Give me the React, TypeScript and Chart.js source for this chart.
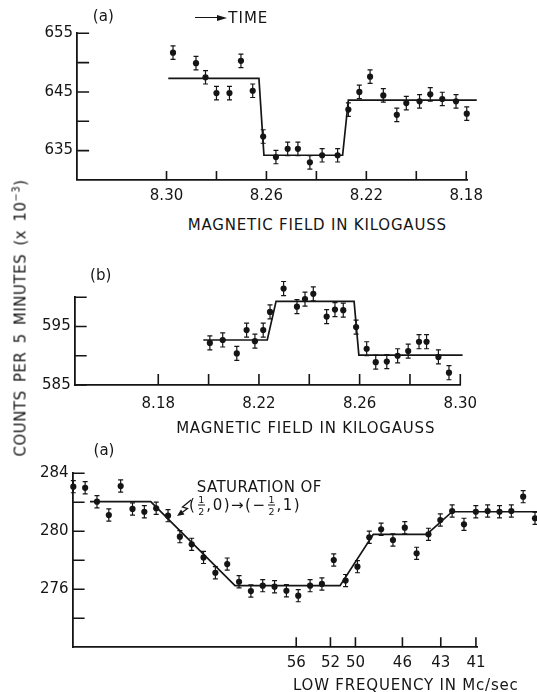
import React, { useEffect, useRef } from 'react';
import { Chart, registerables } from 'chart.js';

Chart.register(...registerables);

const INK = '#151515';
const FONT = "'DejaVu Sans', 'Liberation Sans', sans-serif";
const W = 537;
const DOT = 3.1;

// ---------- Panel (a), top: field sweep downward ----------
const fieldA = [8.2974, 8.2882, 8.2844, 8.28, 8.2748, 8.2702, 8.2655, 8.2613, 8.2562, 8.2515, 8.2474, 8.2426, 8.2377, 8.2315, 8.2272, 8.2228, 8.2185, 8.2132, 8.2078, 8.204, 8.1987, 8.1944, 8.1896, 8.1841, 8.1798];
const countsA = [651.7, 649.9, 647.5, 644.8, 644.8, 650.3, 645.2, 637.4, 633.9, 635.3, 635.3, 633.0, 634.2, 634.2, 642.0, 645.0, 647.6, 644.4, 641.1, 643.1, 643.4, 644.6, 643.8, 643.4, 641.3];
const fitFieldA = [8.2993, 8.263, 8.261, 8.2295, 8.2272, 8.1758];
const fitCountsA = [647.3, 647.3, 634.2, 634.2, 643.6, 643.6];
const errA = 1.15;
const yTicksA = [635, 640, 645, 650, 655];
const yLabelsA = ['635', '', '645', '', '655'];
const xTicksA = [8.3, 8.28, 8.26, 8.24, 8.22, 8.2, 8.18];
const xLabelsA = ['8.30', '', '8.26', '', '8.22', '', '8.18'];

// ---------- Panel (b), middle: field sweep upward ----------
const fieldB = [8.2005, 8.2056, 8.2112, 8.2151, 8.2184, 8.2217, 8.2244, 8.2298, 8.2351, 8.2383, 8.2416, 8.2469, 8.2502, 8.2535, 8.2586, 8.2628, 8.2664, 8.2708, 8.2751, 8.2793, 8.2836, 8.2866, 8.2913, 8.2955];
const countsB = [592.2, 592.7, 590.4, 594.4, 592.5, 594.4, 597.5, 601.5, 598.4, 599.7, 600.6, 596.7, 597.9, 597.8, 594.9, 591.2, 588.9, 589.0, 590.0, 590.8, 592.4, 592.4, 589.8, 587.1];
const fitFieldB = [8.1979, 8.2233, 8.2268, 8.2578, 8.2597, 8.3009];
const fitCountsB = [592.7, 592.7, 599.3, 599.3, 590.1, 590.1];
const errB = 1.2;
const yTicksB = [585, 590, 595, 600];
const yLabelsB = ['585', '', '595', ''];
const xTicksB = [8.18, 8.2, 8.22, 8.24, 8.26, 8.28, 8.3];
const xLabelsB = ['8.18', '', '8.22', '', '8.26', '', '8.30'];

// ---------- Panel (a), bottom: low-frequency sweep ----------
const sweepC = [0, 1, 2, 3, 4, 5, 6, 7, 8, 9, 10, 11, 12, 13, 14, 15, 16, 17, 18, 19, 20, 21, 22, 23, 24, 25, 26, 27, 28, 29, 30, 31, 32, 33, 34, 35, 36, 37, 38, 39];
const countsC = [283.08, 283.0, 282.04, 281.12, 283.12, 281.54, 281.35, 281.59, 281.08, 279.63, 279.1, 278.2, 277.14, 277.74, 276.52, 275.88, 276.25, 276.18, 275.9, 275.56, 276.25, 276.37, 278.02, 276.6, 277.56, 279.59, 280.14, 279.4, 280.25, 278.48, 279.79, 280.78, 281.4, 280.48, 281.35, 281.4, 281.35, 281.4, 282.39, 280.9];
const fitSweepC = [1.41, 6.54, 13.66, 22.53, 25.34, 29.85, 32.0, 39.2];
const fitCountsC = [282.04, 282.04, 276.25, 276.25, 279.79, 279.79, 281.35, 281.35];
const errC = 0.42;
const yTicksC = [274, 276, 278, 280, 282, 284];
const yLabelsC = ['', '276', '', '280', '', '284'];
const freqTickPos = [18.83, 21.72, 23.83, 27.8, 31.04, 34.01];
const freqLabels = ['56', '52', '50', '46', '43', '41'];
const arrowTipC = [8.76, 281.05];

type Pt = { x: number; y: number };
interface Spec {
  top: number;
  height: number;
  area: { l: number; t: number; r: number; b: number };
  xMin: number;
  xMax: number;
  reverse: boolean;
  yMin: number;
  yMax: number;
  points: Pt[];
  fit: Pt[];
  err: number;
  xTicks: number[];
  xLabels: string[];
  yTicks: number[];
  yLabels: string[];
  xTickLen: number;
  yTickLen: number;
  xPad: number;
  yPad: number;
  extra?: (chart: any) => void;
}

const zip = (xs: number[], ys: number[]): Pt[] => xs.map((x, i) => ({ x, y: ys[i] }));

function inkPlugin(s: Spec) {
  return {
    id: 'ink',
    afterDatasetsDraw(chart: any) {
      const { ctx, chartArea } = chart;
      const xs = chart.scales.x;
      const ys = chart.scales.y;
      ctx.save();
      ctx.strokeStyle = INK;
      ctx.fillStyle = INK;
      // inward tick marks
      ctx.lineWidth = 1.6;
      ctx.beginPath();
      for (const v of s.xTicks) {
        const px = xs.getPixelForValue(v);
        ctx.moveTo(px, chartArea.bottom);
        ctx.lineTo(px, chartArea.bottom - s.xTickLen);
      }
      for (const v of s.yTicks) {
        const py = ys.getPixelForValue(v);
        ctx.moveTo(chartArea.left, py);
        ctx.lineTo(chartArea.left + s.yTickLen, py);
      }
      ctx.stroke();
      // error bars
      ctx.lineWidth = 1.2;
      ctx.beginPath();
      for (const p of s.points) {
        const px = xs.getPixelForValue(p.x);
        const a = ys.getPixelForValue(p.y + s.err);
        const b = ys.getPixelForValue(p.y - s.err);
        ctx.moveTo(px, a);
        ctx.lineTo(px, b);
        ctx.moveTo(px - 2.5, a);
        ctx.lineTo(px + 2.5, a);
        ctx.moveTo(px - 2.5, b);
        ctx.lineTo(px + 2.5, b);
      }
      ctx.stroke();
      // points that lie beyond the axes (Chart.js skips those)
      const m = DOT;
      for (const p of s.points) {
        const px = xs.getPixelForValue(p.x);
        const py = ys.getPixelForValue(p.y);
        const inside =
          px > chartArea.left - m && px < chartArea.right + m && py > chartArea.top - m && py < chartArea.bottom + m;
        if (!inside) {
          ctx.beginPath();
          ctx.arc(px, py, DOT, 0, Math.PI * 2);
          ctx.fill();
        }
      }
      if (s.extra) s.extra(chart);
      ctx.restore();
    },
  };
}

function makeChart(canvas: HTMLCanvasElement, s: Spec) {
  const H = s.height;
  return new Chart(canvas, {
    type: 'scatter',
    data: {
      datasets: [
        {
          data: s.fit,
          showLine: true,
          borderColor: INK,
          borderWidth: 1.7,
          pointRadius: 0,
          pointHoverRadius: 0,
          clip: false,
        } as any,
        {
          data: s.points,
          showLine: false,
          pointRadius: DOT,
          pointHoverRadius: DOT,
          backgroundColor: INK,
          borderColor: INK,
          borderWidth: 0,
          clip: false,
        } as any,
      ],
    },
    options: {
      animation: false,
      responsive: false,
      maintainAspectRatio: false,
      devicePixelRatio: 1,
      events: [],
      layout: { padding: { left: 0, top: s.area.t, right: W - s.area.r, bottom: 0 } },
      plugins: { legend: { display: false }, tooltip: { enabled: false }, title: { display: false } },
      scales: {
        x: {
          type: 'linear',
          position: 'bottom',
          reverse: s.reverse,
          min: s.xMin,
          max: s.xMax,
          grid: { display: false, drawTicks: false },
          border: { display: true, color: INK, width: 1.8 },
          ticks: {
            autoSkip: false,
            maxRotation: 0,
            padding: s.xPad,
            color: INK,
            font: { family: FONT, size: 15 },
            callback: (_v: any, i: number) => s.xLabels[i] ?? '',
          },
          afterBuildTicks: (sc: any) => {
            sc.ticks = s.xTicks.map((v) => ({ value: v }));
          },
          afterFit: (sc: any) => {
            sc.height = H - s.area.b;
          },
        },
        y: {
          type: 'linear',
          position: 'left',
          min: s.yMin,
          max: s.yMax,
          grid: { display: false, drawTicks: false },
          border: { display: true, color: INK, width: 1.8 },
          ticks: {
            autoSkip: false,
            padding: s.yPad,
            color: INK,
            font: { family: FONT, size: 15 },
            callback: (_v: any, i: number) => s.yLabels[i] ?? '',
          },
          afterBuildTicks: (sc: any) => {
            sc.ticks = s.yTicks.map((v) => ({ value: v }));
          },
          afterFit: (sc: any) => {
            sc.width = s.area.l;
          },
        },
      },
    } as any,
    plugins: [inkPlugin(s)],
  });
}

const specA: Spec = {
  top: 0,
  height: 215,
  area: { l: 77.1, t: 33.3, r: 467.5, b: 179.9 },
  xMin: 8.1795,
  xMax: 8.3358,
  reverse: true,
  yMin: 630,
  yMax: 655,
  points: zip(fieldA, countsA),
  fit: zip(fitFieldA, fitCountsA),
  err: errA,
  xTicks: xTicksA,
  xLabels: xLabelsA,
  yTicks: yTicksA,
  yLabels: yLabelsA,
  xTickLen: 9,
  yTickLen: 12,
  xPad: 7,
  yPad: 4,
};

const specB: Spec = {
  top: 240,
  height: 200,
  area: { l: 74.7, t: 57.3, r: 460.3, b: 145 },
  xMin: 8.1468,
  xMax: 8.3,
  reverse: false,
  yMin: 585,
  yMax: 600,
  points: zip(fieldB, countsB),
  fit: zip(fitFieldB, fitCountsB),
  err: errB,
  xTicks: xTicksB,
  xLabels: xLabelsB,
  yTicks: yTicksB,
  yLabels: yLabelsB,
  xTickLen: 11,
  yTickLen: 12,
  xPad: 10,
  yPad: 4,
};

const specC: Spec = {
  top: 430,
  height: 262,
  area: { l: 72.6, t: 43.3, r: 477, b: 217.3 },
  xMin: -0.06,
  xMax: 34.1,
  reverse: false,
  yMin: 272,
  yMax: 284,
  points: zip(sweepC, countsC),
  fit: zip(fitSweepC, fitCountsC),
  err: errC,
  xTicks: freqTickPos,
  xLabels: freqLabels,
  yTicks: yTicksC,
  yLabels: yLabelsC,
  xTickLen: 10,
  yTickLen: 12,
  xPad: 7,
  yPad: 4,
  extra: (chart: any) => {
    const { ctx } = chart;
    const tx = chart.scales.x.getPixelForValue(arrowTipC[0]);
    const ty = chart.scales.y.getPixelForValue(arrowTipC[1]);
    ctx.lineWidth = 1.3;
    ctx.beginPath();
    ctx.moveTo(tx + 14, ty - 16);
    ctx.lineTo(tx + 5.5, ty - 9);
    ctx.lineTo(tx + 10.5, ty - 7.5);
    ctx.lineTo(tx + 3, ty - 2);
    ctx.stroke();
    const dx = -0.814;
    const dy = 0.581;
    ctx.beginPath();
    ctx.moveTo(tx, ty);
    ctx.lineTo(tx - dx * 7 - dy * 3, ty - dy * 7 + dx * 3);
    ctx.lineTo(tx - dx * 7 + dy * 3, ty - dy * 7 - dx * 3);
    ctx.closePath();
    ctx.fill();
  },
};

const Label = ({ x, y, children, style }: { x: number; y: number; children: any; style?: any }) => (
  <div
    style={{
      position: 'absolute',
      left: x,
      top: y,
      transform: 'translate(-50%, -50%)',
      whiteSpace: 'nowrap',
      lineHeight: 1,
      fontSize: 15,
      color: INK,
      ...style,
    }}
  >
    {children}
  </div>
);

const Frac = ({ n, d }: { n: string; d: string }) => (
  <span
    style={{
      display: 'inline-flex',
      flexDirection: 'column',
      alignItems: 'center',
      fontSize: 9.5,
      lineHeight: 1,
      margin: '0 1.5px',
      letterSpacing: 0,
      verticalAlign: 'middle',
    }}
  >
    <span>{n}</span>
    <span style={{ width: 7, borderTop: `1.2px solid ${INK}`, margin: '0.5px 0' }} />
    <span>{d}</span>
  </span>
);

export default function App() {
  const refA = useRef<HTMLCanvasElement>(null);
  const refB = useRef<HTMLCanvasElement>(null);
  const refC = useRef<HTMLCanvasElement>(null);

  useEffect(() => {
    Chart.defaults.font.family = FONT;
    Chart.defaults.color = INK;
    const charts = [
      makeChart(refA.current!, specA),
      makeChart(refB.current!, specB),
      makeChart(refC.current!, specC),
    ];
    return () => charts.forEach((c) => c.destroy());
  }, []);

  const canvasStyle = (s: Spec): any => ({
    position: 'absolute',
    left: 0,
    top: s.top,
    width: W,
    height: s.height,
  });

  return (
    <div
      style={{
        position: 'absolute',
        left: 0,
        top: 0,
        width: W,
        height: 692,
        background: '#fff',
        fontFamily: FONT,
        color: INK,
        overflow: 'hidden',
      }}
    >
      <canvas ref={refA} width={W} height={specA.height} style={canvasStyle(specA)} />
      <canvas ref={refB} width={W} height={specB.height} style={canvasStyle(specB)} />
      <canvas ref={refC} width={W} height={specC.height} style={canvasStyle(specC)} />

      {/* panel (a) top */}
      <Label x={103.3} y={16}>(a)</Label>
      <div style={{ position: 'absolute', left: 195, top: 17, width: 23, height: 1.4, background: INK }} />
      <div
        style={{
          position: 'absolute',
          left: 217,
          top: 14.7,
          width: 0,
          height: 0,
          borderLeft: `10px solid ${INK}`,
          borderTop: '3px solid transparent',
          borderBottom: '3px solid transparent',
        }}
      />
      <div style={{ position: 'absolute', left: 228.3, top: 18.3, transform: 'translateY(-50%)', fontSize: 15, lineHeight: 1, letterSpacing: 1 }}>
        TIME
      </div>
      <Label x={317.3} y={225.3} style={{ letterSpacing: 0.8 }}>MAGNETIC FIELD IN KILOGAUSS</Label>

      {/* panel (b) */}
      <Label x={100.7} y={275}>(b)</Label>
      <Label x={305.7} y={428.3} style={{ letterSpacing: 0.8 }}>MAGNETIC FIELD IN KILOGAUSS</Label>

      {/* panel (a) bottom */}
      <Label x={104} y={450}>(a)</Label>
      <div style={{ position: 'absolute', left: 196.8, top: 487, transform: 'translateY(-50%)', fontSize: 15, lineHeight: 1, letterSpacing: 0.4, whiteSpace: 'nowrap' }}>
        SATURATION OF
      </div>
      <div
        style={{
          position: 'absolute',
          left: 189,
          top: 505,
          transform: 'translateY(-50%)',
          fontSize: 15,
          lineHeight: 1,
          letterSpacing: 1.5,
          whiteSpace: 'nowrap',
          display: 'flex',
          alignItems: 'center',
        }}
      >
        <span>(</span>
        <Frac n="1" d="2" />
        <span>,0)</span>
        <span>→</span>
        <span>(−</span>
        <Frac n="1" d="2" />
        <span>,1)</span>
      </div>
      <Label x={405.8} y={685} style={{ letterSpacing: 0.8 }}>LOW FREQUENCY IN Mc/sec</Label>

      {/* shared y-axis title */}
      <Label
        x={21}
        y={318}
        style={{ transform: 'translate(-50%, -50%) rotate(-90deg)', letterSpacing: 0.5, wordSpacing: 3 }}
      >
        COUNTS PER 5 MINUTES (x 10<sup style={{ fontSize: 10, verticalAlign: 'super', lineHeight: 0 }}>−3</sup>)
      </Label>
    </div>
  );
}
